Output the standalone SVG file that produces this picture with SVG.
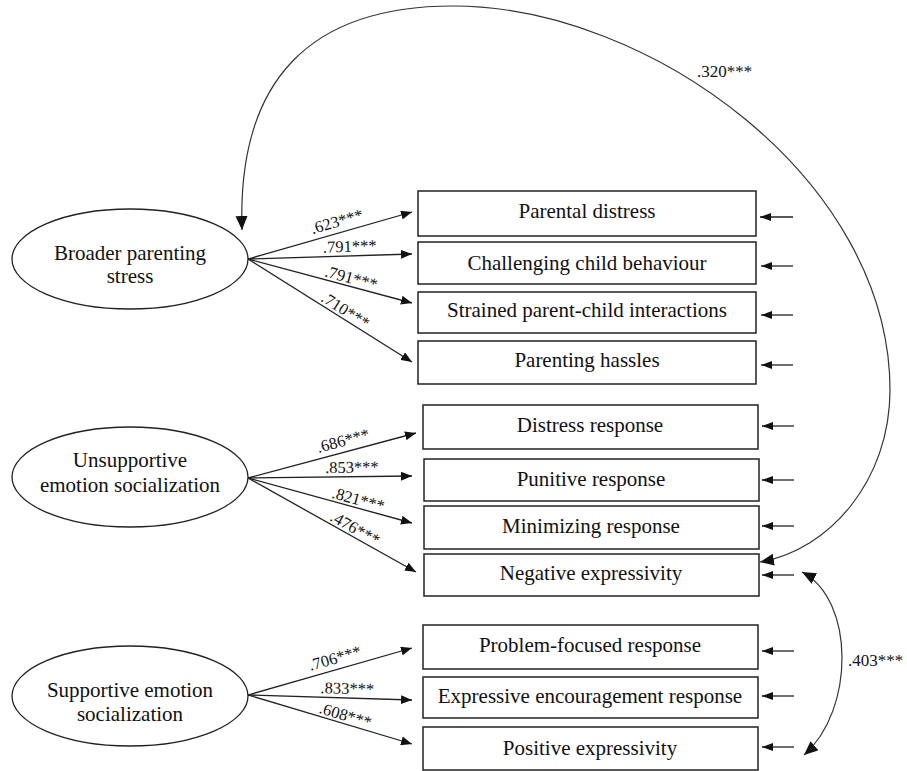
<svg xmlns="http://www.w3.org/2000/svg" width="907" height="771" viewBox="0 0 907 771">
<style>
text{font-family:"Liberation Serif","Times New Roman",serif;fill:#111}
.nt{font-size:21px;text-anchor:middle}
.lb{font-size:16.5px;text-anchor:middle}
.cl{font-size:17px}
.box{fill:#fff;stroke:#222;stroke-width:1.5}
.ell{fill:#fff;stroke:#222;stroke-width:1.3}
.ln{fill:none;stroke:#222;stroke-width:1.3}
.cv{fill:none;stroke:#333;stroke-width:1.2}
</style>
<defs>
<marker id="ah" markerUnits="userSpaceOnUse" markerWidth="12" markerHeight="9" refX="11" refY="4.5" orient="auto"><path d="M0,0 L11,4.5 L0,9 z" fill="#111"/></marker>
<marker id="eh" markerUnits="userSpaceOnUse" markerWidth="12" markerHeight="9" refX="11" refY="4" orient="auto"><path d="M0,0 L11,4 L0,8 z" fill="#111"/></marker>
<marker id="ch" markerUnits="userSpaceOnUse" markerWidth="15" markerHeight="13" refX="14" refY="6" orient="auto-start-reverse"><path d="M0,0 L14,6 L0,12 z" fill="#111"/></marker>
</defs>
<rect width="907" height="771" fill="#fff"/>

<g id="connectors">
<path class="ln" d="M248,259 L412,212" marker-end="url(#ah)"/>
<path class="ln" d="M248,259 L412,254" marker-end="url(#ah)"/>
<path class="ln" d="M248,259 L412,303" marker-end="url(#ah)"/>
<path class="ln" d="M248,259 L412,362" marker-end="url(#ah)"/>
<path class="ln" d="M248,478 L416,433" marker-end="url(#ah)"/>
<path class="ln" d="M248,478 L412,476" marker-end="url(#ah)"/>
<path class="ln" d="M248,478 L412,523" marker-end="url(#ah)"/>
<path class="ln" d="M248,478 L416,572" marker-end="url(#ah)"/>
<path class="ln" d="M248,695 L412,648" marker-end="url(#ah)"/>
<path class="ln" d="M248,695 L412,700" marker-end="url(#ah)"/>
<path class="ln" d="M248,695 L412,744" marker-end="url(#ah)"/>

<path class="ln" d="M793,217 L760,217" marker-end="url(#eh)"/>
<path class="ln" d="M793,266 L761,266" marker-end="url(#eh)"/>
<path class="ln" d="M793,315 L761,315" marker-end="url(#eh)"/>
<path class="ln" d="M793,365 L761,365" marker-end="url(#eh)"/>
<path class="ln" d="M794,426 L762,426" marker-end="url(#eh)"/>
<path class="ln" d="M794,480 L762,480" marker-end="url(#eh)"/>
<path class="ln" d="M794,526 L762,526" marker-end="url(#eh)"/>
<path class="ln" d="M794,575 L762,575" marker-end="url(#eh)"/>
<path class="ln" d="M794,651 L762,651" marker-end="url(#eh)"/>
<path class="ln" d="M794,696 L762,696" marker-end="url(#eh)"/>
<path class="ln" d="M794,747 L762,747" marker-end="url(#eh)"/>

<path class="cv" d="M242,230 C237,80 310,6 453,6 C650,6 890,180 890,390 C890,480 830,550 760,562" marker-start="url(#ch)" marker-end="url(#ch)"/>
<path class="cv" d="M802,572 C855,600 855,710 804,755" marker-start="url(#ch)" marker-end="url(#ch)"/>

<text class="lb" transform="translate(340,232.6) rotate(-16)" y="-6">.623***</text>
<text class="lb" transform="translate(350,255.9) rotate(-1.7)" y="-4">.791***</text>
<text class="lb" transform="translate(349,286.1) rotate(15)" y="-3">.791***</text>
<text class="lb" transform="translate(341,317.4) rotate(32.1)" y="-3">.710***</text>
<text class="lb" transform="translate(346,451.75) rotate(-15)" y="-6">.686***</text>
<text class="lb" transform="translate(352,476.7) rotate(-0.7)" y="-4">.853***</text>
<text class="lb" transform="translate(356,507.6) rotate(15.3)" y="-3">.821***</text>
<text class="lb" transform="translate(351,535.6) rotate(29.2)" y="-3">.476***</text>
<text class="lb" transform="translate(338,669.2) rotate(-16)" y="-6">.706***</text>
<text class="lb" transform="translate(347,698) rotate(1.7)" y="-4">.833***</text>
<text class="lb" transform="translate(343,723.4) rotate(16.6)" y="-3">.608***</text>
<text class="cl" x="697" y="77">.320***</text>
<text class="cl" x="848" y="666">.403***</text>
</g>

<g id="broader-parenting-stress">
<ellipse class="ell" cx="130" cy="259" rx="118" ry="50"/>
<text class="nt" x="130" y="260">Broader parenting</text>
<text class="nt" x="130" y="283">stress</text>
</g>
<g id="unsupportive-emotion-socialization">
<ellipse class="ell" cx="130" cy="477" rx="118" ry="50"/>
<text class="nt" x="130" y="467">Unsupportive</text>
<text class="nt" x="130" y="492">emotion socialization</text>
</g>
<g id="supportive-emotion-socialization">
<ellipse class="ell" cx="130" cy="696" rx="118" ry="50"/>
<text class="nt" x="130" y="697">Supportive emotion</text>
<text class="nt" x="130" y="721">socialization</text>
</g>

<g id="parental-distress"><rect class="box" x="418" y="191" width="338" height="45"/><text class="nt" x="587" y="218">Parental distress</text></g>
<g id="challenging-child-behaviour"><rect class="box" x="418" y="242" width="338" height="42"/><text class="nt" x="587" y="270">Challenging child behaviour</text></g>
<g id="strained-parent-child-interactions"><rect class="box" x="418" y="292" width="338" height="41"/><text class="nt" x="587" y="317">Strained parent-child interactions</text></g>
<g id="parenting-hassles"><rect class="box" x="418" y="341" width="338" height="43"/><text class="nt" x="587" y="367">Parenting hassles</text></g>

<g id="distress-response"><rect class="box" x="423" y="405" width="335" height="44"/><text class="nt" x="590" y="432">Distress response</text></g>
<g id="punitive-response"><rect class="box" x="424" y="459" width="335" height="42"/><text class="nt" x="591" y="486">Punitive response</text></g>
<g id="minimizing-response"><rect class="box" x="424" y="506" width="335" height="43"/><text class="nt" x="591" y="533">Minimizing response</text></g>
<g id="negative-expressivity"><rect class="box" x="424" y="554" width="335" height="42"/><text class="nt" x="591" y="580">Negative expressivity</text></g>

<g id="problem-focused-response"><rect class="box" x="423" y="625" width="335" height="44"/><text class="nt" x="590" y="652">Problem-focused response</text></g>
<g id="expressive-encouragement-response"><rect class="box" x="423" y="677" width="335" height="41"/><text class="nt" x="590" y="703">Expressive encouragement response</text></g>
<g id="positive-expressivity"><rect class="box" x="423" y="727" width="335" height="43"/><text class="nt" x="590" y="755">Positive expressivity</text></g>
</svg>
